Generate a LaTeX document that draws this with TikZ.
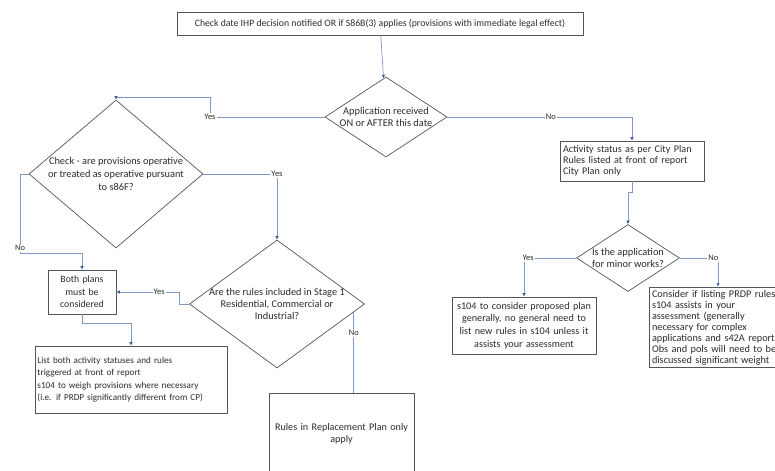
\documentclass[tikz,border=0pt]{standalone}
\usepackage{fontspec}
\setmainfont{Carlito}
\usetikzlibrary{shapes.geometric,arrows.meta}
\definecolor{flowline}{HTML}{7F98C6}
\definecolor{flowtip}{HTML}{3E5C96}
\definecolor{frame}{HTML}{555555}
\definecolor{ink}{HTML}{2B2B2B}

\begin{document}
\begin{tikzpicture}[
    x=1bp, y=-1bp,
    box/.style={draw=frame, line width=0.8bp, inner sep=3bp, text=ink, align=center, font=\fontsize{10.2}{12.4}\selectfont},
    lbox/.style={box, align=left},
    decide/.style={diamond, draw=frame, line width=0.7bp, inner sep=-1.5bp, text=ink, align=center, font=\fontsize{10.4}{12}\selectfont},
    lbl/.style={fill=white, inner sep=1bp, text=ink, font=\fontsize{8.5}{9}\selectfont},
    link/.style={flowline, line width=0.7bp},
    arr/.style={link, -{Latex[length=3.5bp, width=3.5bp, color=flowtip]}}
]
  \useasboundingbox (0,0) rectangle (775,471);

  \node[box, minimum width=406bp, minimum height=23bp, font=\fontsize{9.8}{11}\selectfont] (chk) at (380,23.5)
       {Check date IHP decision notified OR if S86B(3) applies (provisions with immediate legal effect)};
  \node[decide, minimum width=122bp, minimum height=80bp, aspect=1.5] (recv) at (386,117)
       {Application received\\ON or AFTER this date};
  \draw[arr] (chk) -- (recv);

  % left branch
  \node[decide, minimum width=174bp, minimum height=148bp, aspect=1.18, font=\fontsize{10.4}{13}\selectfont] (oper) at (116,174)
       {Check - are provisions operative\\or treated as operative pursuant\\to s86F?};
  \node[decide, minimum width=175bp, minimum height=128bp, aspect=1.37, inner xsep=-5bp, inner ysep=-1bp] (stage) at (277,304)
       {Are the rules included in Stage 1\\Residential, Commercial or\\Industrial?};
  \node[box, text width=62bp, minimum height=44bp, font=\fontsize{9.8}{12.5}\selectfont] (both) at (82,292)
       {Both plans\\must be\\considered};
  \node[lbox, text width=187bp, inner xsep=2.5bp, minimum height=67bp, font=\fontsize{9.2}{12.4}\selectfont] (lst) at (131,379.5)
       {List both activity statuses and rules\\triggered at front of report\\s104 to weigh provisions where necessary\\(i.e. if PRDP significantly different from CP)};
  \node[box, text width=139bp, minimum height=82bp] (repl) at (341.5,434)
       {Rules in Replacement Plan only\\apply};

  \coordinate (yesup) at (210,97);
  \coordinate (nodown) at (20,253);
  \draw[arr] (recv.west) -| node[lbl, pos=0.5] {Yes} (yesup) -| (oper.north);
  \draw[arr] (oper.east) -| node[lbl, pos=0.5] {Yes} (stage.north);
  \draw[link] (oper.west) -| node[lbl, pos=0.97] {No} (nodown);
  \draw[arr] (nodown) -| (both.north);
  \draw[arr] (stage.west) -- ++(-10,0) |- node[lbl, pos=0.66] {Yes} (both.east);
  \draw[link] (stage.-6) -- node[lbl, pos=0.26] {No} (stage.-6 |- repl.north);
  \draw[arr] (both.south) -- ++(0,9) -| (lst.north);

  % right branch
  \node[lbox, text width=138bp, minimum height=40bp, font=\fontsize{10.2}{10.8}\selectfont] (act) at (632,161)
       {Activity status as per City Plan\\Rules listed at front of report\\City Plan only};
  \node[decide, minimum width=103bp, minimum height=67bp, aspect=1.54] (minor) at (628,258)
       {Is the application\\for minor works?};
  \node[box, text width=138bp, minimum height=57bp, font=\fontsize{10.2}{12.8}\selectfont] (gen) at (524,325.5)
       {s104 to consider proposed plan\\generally, no general need to\\list new rules in s104 unless it\\assists your assessment};
  \node[lbox, text width=132bp, minimum height=79bp, font=\fontsize{10.3}{11}\selectfont] (cons) at (718,327.5)
       {Consider if listing PRDP rules\\s104 assists in your\\assessment (generally\\necessary for complex\\applications and s42A report\\Obs and pols will need to be\\discussed significant weight};

  \draw[arr] (recv.east) -| node[lbl, pos=0.28] {No} (act.north);
  \draw[arr] (act.south) -- ++(0,11) -| (minor.north);
  \draw[arr] (minor.west) -| node[lbl, pos=0.46] {Yes} (gen.north);
  \draw[arr] (minor.east) -| node[lbl, pos=0.44] {No} (cons.north);
\end{tikzpicture}
\end{document}
